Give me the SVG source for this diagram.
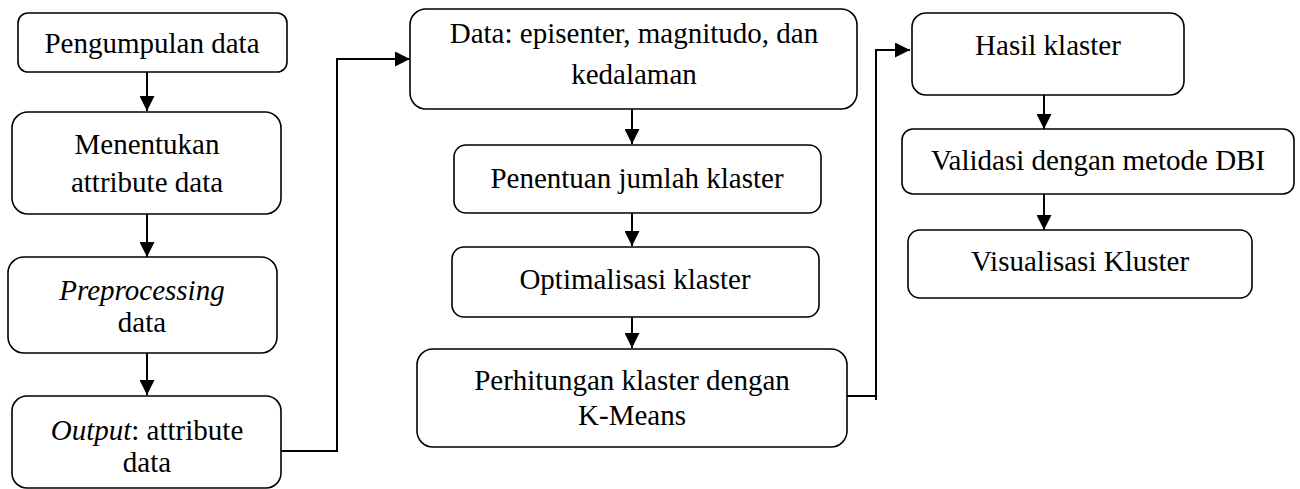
<svg xmlns="http://www.w3.org/2000/svg" width="1300" height="489" viewBox="0 0 1300 489">
<style>
.box{fill:#fff;stroke:#000;stroke-width:1.6}
.t{font-family:'Liberation Serif','Times New Roman',serif;font-size:29px;fill:#000;text-anchor:middle}
.i{font-style:italic}
.c{fill:none;stroke:#000;stroke-width:2}
</style>
<defs>
<marker id="ah" markerUnits="userSpaceOnUse" markerWidth="15" markerHeight="15" refX="15" refY="7.5" orient="auto">
<path d="M0,0 L15,7.5 L0,15 z" fill="#000"/>
</marker>
</defs>
<rect width="1300" height="489" fill="#fff"/>
<g id="connectors">
<line class="c" x1="147" y1="72" x2="147" y2="111" marker-end="url(#ah)"/>
<line class="c" x1="147" y1="214" x2="147" y2="257" marker-end="url(#ah)"/>
<line class="c" x1="147" y1="353" x2="147" y2="395" marker-end="url(#ah)"/>
<polyline class="c" points="281,451 337,451 337,59 410,59" marker-end="url(#ah)"/>
<line class="c" x1="632" y1="109" x2="632" y2="144" marker-end="url(#ah)"/>
<line class="c" x1="632" y1="213" x2="632" y2="246" marker-end="url(#ah)"/>
<line class="c" x1="632" y1="317" x2="632" y2="348" marker-end="url(#ah)"/>
<polyline class="c" points="847,396 876,396"/>
<polyline class="c" points="876,400 876,50 910,50" marker-end="url(#ah)"/>
<line class="c" x1="1044" y1="95" x2="1044" y2="129" marker-end="url(#ah)"/>
<line class="c" x1="1044" y1="194" x2="1044" y2="230" marker-end="url(#ah)"/>
</g>
<g id="n1"><rect class="box" x="18" y="13" width="269" height="59" rx="10"/><text class="t" x="152" y="53">Pengumpulan data</text></g>
<g id="n2"><rect class="box" x="12" y="112" width="269" height="102" rx="16"/><text class="t" x="147" y="154">Menentukan</text><text class="t" x="147" y="192">attribute data</text></g>
<g id="n3"><rect class="box" x="8" y="257" width="269" height="96" rx="16"/><text class="t i" x="142" y="300">Preprocessing</text><text class="t" x="142" y="332">data</text></g>
<g id="n4"><rect class="box" x="12" y="396" width="269" height="92" rx="15"/><text class="t" x="147" y="440"><tspan class="i">Output</tspan>: attribute</text><text class="t" x="147" y="472">data</text></g>
<g id="n5"><rect class="box" x="410" y="9" width="447" height="100" rx="16"/><text class="t" x="634" y="43">Data: episenter, magnitudo, dan</text><text class="t" x="634" y="84">kedalaman</text></g>
<g id="n6"><rect class="box" x="454" y="145" width="367" height="68" rx="12"/><text class="t" x="637" y="188">Penentuan jumlah klaster</text></g>
<g id="n7"><rect class="box" x="452" y="247" width="367" height="70" rx="12"/><text class="t" x="635" y="289">Optimalisasi klaster</text></g>
<g id="n8"><rect class="box" x="417" y="349" width="430" height="98" rx="16"/><text class="t" x="632" y="390">Perhitungan klaster dengan</text><text class="t" x="632" y="425">K-Means</text></g>
<g id="n9"><rect class="box" x="912" y="13" width="272" height="82" rx="14"/><text class="t" x="1048" y="55">Hasil klaster</text></g>
<g id="n10"><rect class="box" x="902" y="129" width="392" height="65" rx="11"/><text class="t" x="1098" y="170">Validasi dengan metode DBI</text></g>
<g id="n11"><rect class="box" x="908" y="230" width="344" height="68" rx="12"/><text class="t" x="1080" y="271">Visualisasi Kluster</text></g>
</svg>
